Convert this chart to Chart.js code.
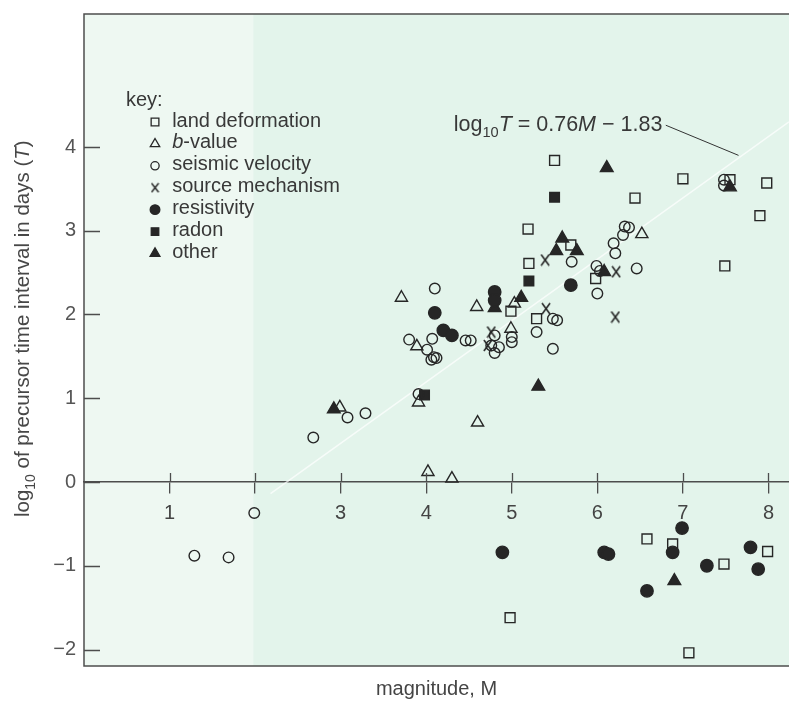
<!DOCTYPE html>
<html><head><meta charset="utf-8">
<script src="https://cdn.jsdelivr.net/npm/chart.js@4.4.1/dist/chart.umd.min.js"></script>
<style>html,body{margin:0;padding:0;background:#fff;}#wrap{width:789px;height:701px;}</style>
</head><body><div id="wrap"><canvas id="c" width="789" height="701"></canvas></div>
<script>
// ---------- data ----------
const xTickValues = [1, 2, 3, 4, 5, 6, 7, 8];
const xTickLabels = ['1', '', '3', '4', '5', '6', '7', '8'];
const yTickValues = [-2, -1, 0, 1, 2, 3, 4];
const yTickLabels = ['\u22122', '\u22121', '0', '1', '2', '3', '4'];
const seriesNames = ['land deformation', 'b-value', 'seismic velocity', 'source mechanism', 'resistivity', 'radon', 'other'];

const landDeformation = [[5.50,3.84],[7.00,3.62],[7.55,3.61],[7.98,3.57],[6.44,3.39],[7.90,3.18],[5.19,3.02],[5.69,2.83],[5.20,2.61],[5.98,2.43],[7.49,2.58],[4.99,2.04],[5.29,1.95],[6.58,-0.68],[6.88,-0.74],[7.48,-0.98],[7.99,-0.83],[4.98,-1.62],[7.07,-2.04]];
const bValue = [[3.71,2.20],[6.52,2.96],[4.59,2.09],[5.03,2.13],[3.89,1.62],[4.99,1.83],[3.91,0.95],[4.60,0.71],[2.99,0.89],[4.02,0.12],[4.30,0.04]];
const seismicVelocity = [[7.48,3.61],[7.48,3.54],[6.32,3.05],[6.37,3.04],[6.30,2.95],[6.19,2.85],[6.21,2.73],[5.70,2.63],[5.99,2.58],[6.03,2.52],[6.46,2.55],[6.00,2.25],[4.10,2.31],[5.48,1.95],[5.53,1.93],[3.80,1.70],[4.07,1.71],[4.01,1.58],[4.09,1.49],[4.06,1.46],[4.12,1.48],[4.46,1.69],[4.52,1.69],[4.80,1.75],[4.76,1.63],[4.85,1.61],[4.80,1.54],[5.00,1.73],[5.00,1.67],[5.29,1.79],[5.48,1.59],[3.91,1.05],[3.08,0.77],[3.29,0.82],[2.68,0.53],[1.99,-0.37],[1.29,-0.88],[1.69,-0.90]];
const sourceMechanism = [[5.39,2.65],[6.22,2.51],[6.21,1.97],[5.40,2.07],[4.76,1.79],[4.72,1.63]];
const resistivity = [[5.69,2.35],[4.80,2.27],[4.80,2.17],[4.10,2.02],[4.20,1.81],[4.30,1.75],[4.89,-0.84],[6.08,-0.84],[6.13,-0.86],[6.58,-1.30],[6.99,-0.55],[6.88,-0.84],[7.28,-1.00],[7.79,-0.78],[7.88,-1.04]];
const radon = [[5.50,3.40],[5.20,2.40],[3.98,1.04]];
const other = [[6.11,3.75],[7.55,3.52],[5.59,2.91],[5.76,2.76],[5.52,2.76],[6.08,2.51],[5.11,2.20],[4.80,2.08],[5.31,1.14],[2.92,0.87],[6.90,-1.18]];

const regressionLine = [[2.18,-0.14],[8.24,4.30]];
const leaderLine = [[6.80,4.26],[7.65,3.90]];
const equationText = [{t:'log'},{t:'10',sub:true},{t:'T',it:true},{t:' = 0.76'},{t:'M',it:true},{t:' \u2212 1.83'}];
const keyTitle = 'key:';
const xTitle = 'magnitude, M';
const yTitleRuns = [{t:'log'},{t:'10',sub:true},{t:' of precursor time interval in days ('},{t:'T',it:true},{t:')'}];

// ---------- styling ----------
const FAMILY = "'Liberation Sans', Arial, sans-serif";
const INK = '#262626';
const TEXT = '#383838';
const AXIS = '#4d4d4d';
const toXY = a => a.map(p => ({x: p[0], y: p[1]}));

function makeX(w, h, color, lw) {
  const c = document.createElement('canvas');
  c.width = w; c.height = h;
  const g = c.getContext('2d');
  g.strokeStyle = color; g.lineWidth = lw;
  g.beginPath();
  g.moveTo(1, 1); g.lineTo(w - 1, h - 1);
  g.moveTo(w - 1, 1); g.lineTo(1, h - 1);
  g.stroke();
  return c;
}
const xMark = makeX(10, 13, INK, 1.6);
const xMarkSmall = makeX(9, 11, INK, 1.4);

const styles = [
  {pointStyle:'rect', radius:7, filled:false},
  {pointStyle:'triangle', radius:7, filled:false},
  {pointStyle:'circle', radius:5.3, filled:false},
  {pointStyle:xMark, radius:6, filled:false, legendStyle:xMarkSmall},
  {pointStyle:'circle', radius:6.2, filled:true},
  {pointStyle:'rect', radius:6.8, filled:true},
  {pointStyle:'triangle', radius:7.3, filled:true}
];
const seriesData = [landDeformation, bValue, seismicVelocity, sourceMechanism, resistivity, radon, other];

const datasets = seriesData.map((d, i) => ({
  type: 'scatter',
  label: seriesNames[i],
  data: toXY(d),
  pointStyle: styles[i].pointStyle,
  pointRadius: styles[i].radius,
  pointHoverRadius: styles[i].radius,
  pointBackgroundColor: styles[i].filled ? INK : 'rgba(0,0,0,0)',
  pointBorderColor: INK,
  pointBorderWidth: 1.4,
  showLine: false,
  order: 1
}));
datasets.push({type:'line', label:'regression', data: toXY(regressionLine), borderColor:'rgba(255,255,255,0.7)', borderWidth:1.6, pointRadius:0, showLine:true, order:20});
datasets.push({type:'line', label:'leader', data: toXY(leaderLine), borderColor:'#333', borderWidth:1, pointRadius:0, showLine:true, order:19});

function drawRuns(ctx, runs, x, y, size, align) {
  let total = 0;
  const parts = runs.map(r => {
    const fs = r.sub ? size * 0.68 : size;
    const font = (r.it ? 'italic ' : '') + fs + 'px ' + FAMILY;
    ctx.font = font;
    const w = ctx.measureText(r.t).width;
    total += w;
    return {r, font, w};
  });
  let cx = align === 'right' ? x - total : align === 'center' ? x - total / 2 : x;
  parts.forEach(p => {
    ctx.font = p.font;
    ctx.fillText(p.r.t, cx, y + (p.r.sub ? size * 0.28 : 0));
    cx += p.w;
  });
}

const decor = {
  id: 'decor',
  beforeDraw(chart) {
    const {ctx, chartArea: {left, top, right, bottom}, scales: {x}} = chart;
    ctx.save();
    ctx.fillStyle = '#e3f4eb';
    ctx.fillRect(left, top, right - left, bottom - top);
    ctx.fillStyle = '#eef8f2';
    const xs = x.getPixelForValue(1.98);
    ctx.fillRect(left, top, xs - left, bottom - top);
    ctx.restore();
  },
  afterDraw(chart) {
    const {ctx, chartArea: {left, top, right, bottom}, scales: {x, y}} = chart;
    ctx.save();
    // frame
    ctx.strokeStyle = AXIS; ctx.lineWidth = 1.5;
    ctx.beginPath();
    ctx.moveTo(right + 2, top); ctx.lineTo(left, top); ctx.lineTo(left, bottom); ctx.lineTo(right + 2, bottom);
    ctx.stroke();
    // inward y ticks
    ctx.lineWidth = 1.3;
    ctx.beginPath();
    yTickValues.forEach(v => { const py = Math.round(y.getPixelForValue(v)) + 0.5; ctx.moveTo(left, py); ctx.lineTo(left + 16, py); });
    // upward part of x ticks
    const y0 = y.getPixelForValue(0);
    xTickValues.forEach(v => { const px = Math.round(x.getPixelForValue(v)) + 0.5; ctx.moveTo(px, y0 - 9); ctx.lineTo(px, y0); });
    ctx.stroke();

    ctx.fillStyle = TEXT;
    ctx.textBaseline = 'alphabetic';
    // equation
    drawRuns(ctx, equationText, x.getPixelForValue(6.76), y.getPixelForValue(4.19), 21.5, 'right');
    // y title
    ctx.save();
    ctx.translate(22, y.getPixelForValue(1.83));
    ctx.rotate(-Math.PI / 2);
    ctx.fillStyle = '#474747';
    drawRuns(ctx, yTitleRuns, 0, 7, 20.5, 'center');
    ctx.restore();
    // key
    ctx.font = '20px ' + FAMILY;
    ctx.textBaseline = 'middle';
    ctx.fillText(keyTitle, x.getPixelForValue(0.49), y.getPixelForValue(4.55));
    const rowY0 = y.getPixelForValue(4.31);
    const mx = x.getPixelForValue(0.83);
    const tx = x.getPixelForValue(1.03);
    chart.data.datasets.slice(0, 7).forEach((ds, i) => {
      const ry = rowY0 + i * 21.9;
      const st = styles[i];
      ctx.fillStyle = st.filled ? INK : 'rgba(0,0,0,0)';
      ctx.strokeStyle = INK;
      ctx.lineWidth = 1.3;
      Chart.helpers.drawPoint(ctx, {pointStyle: st.legendStyle || st.pointStyle, radius: st.radius * 0.78, rotation: 0, borderWidth: 1.3}, mx, ry + 1);
      ctx.fillStyle = TEXT;
      ctx.textBaseline = 'middle';
      if (ds.label.startsWith('b-')) {
        ctx.font = 'italic 20px ' + FAMILY;
        ctx.fillText('b', tx, ry);
        const w = ctx.measureText('b').width;
        ctx.font = '20px ' + FAMILY;
        ctx.fillText(ds.label.slice(1), tx + w, ry);
      } else {
        ctx.font = '20px ' + FAMILY;
        ctx.fillText(ds.label, tx, ry);
      }
    });
    ctx.restore();
  }
};

const noHPad = s => { s.paddingLeft = 0; s.paddingRight = 0; };

new Chart(document.getElementById('c'), {
  type: 'scatter',
  data: {datasets},
  options: {
    responsive: false,
    animation: false,
    devicePixelRatio: 1,
    layout: {autoPadding: false, padding: {top: 14, right: 0, bottom: 0, left: 0}},
    plugins: {legend: {display: false}, tooltip: {enabled: false}},
    scales: {
      x: {
        type: 'linear', min: 0, max: 8.24, position: {y: 0},
        afterBuildTicks: s => { s.ticks = xTickValues.map(v => ({value: v})); },
        afterFit: noHPad,
        ticks: {callback: v => { const i = xTickValues.indexOf(v); return i < 0 ? '' : xTickLabels[i]; }, color: '#444', font: {family: FAMILY, size: 20}, padding: 8, maxRotation: 0, autoSkip: false},
        grid: {display: true, drawOnChartArea: false, drawTicks: true, tickLength: 11, color: AXIS, lineWidth: 1.3},
        border: {display: true, color: AXIS, width: 1.5}
      },
      x2: {
        type: 'linear', min: 0, max: 8.24, position: 'bottom',
        ticks: {display: false}, grid: {display: false, drawTicks: false}, border: {display: false},
        title: {display: true, text: xTitle, color: '#444', font: {family: FAMILY, size: 20}, padding: {top: 0, bottom: 0}},
        afterFit: s => { s.height = 35; noHPad(s); }
      },
      y: {
        type: 'linear', min: -2.197, max: 5.588, position: 'left',
        afterBuildTicks: s => { s.ticks = yTickValues.map(v => ({value: v})); },
        ticks: {callback: v => { const i = yTickValues.indexOf(v); return i < 0 ? '' : yTickLabels[i]; }, color: '#555', font: {family: FAMILY, size: 20}, padding: 8},
        grid: {display: false, drawTicks: false}, border: {display: false},
        afterFit: s => { s.width = 84; s.paddingTop = 0; s.paddingBottom = 0; }
      }
    }
  },
  plugins: [decor]
});
</script></body></html>
